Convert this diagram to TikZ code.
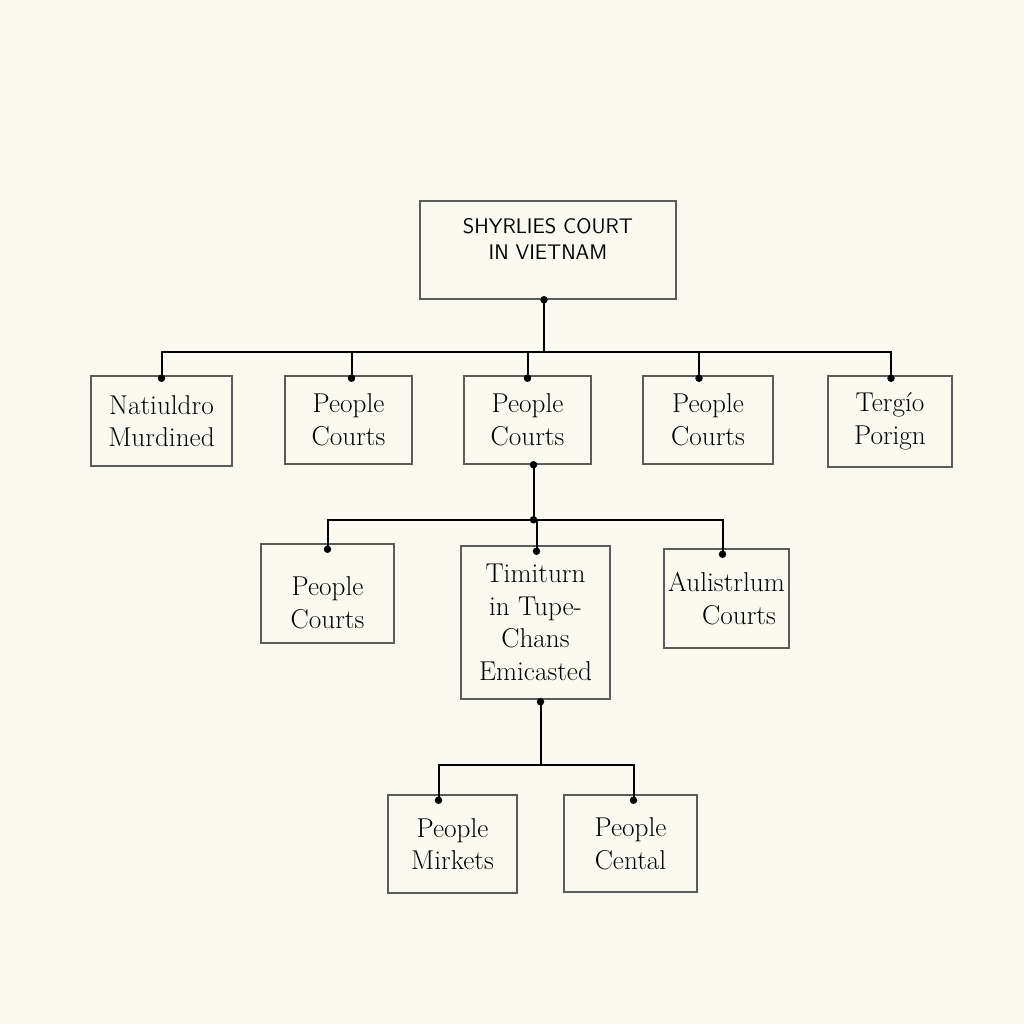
\documentclass[tikz,border=0pt]{standalone}
\usepackage{tikz}
\usetikzlibrary{calc}

\definecolor{paper}{HTML}{FBFAF0}
\definecolor{frame}{HTML}{5C5C5C}

\tikzset{
  unit/.style={draw=frame, line width=0.3mm, fill=paper, align=center,
    font=\fontsize{15.5}{18.5}\selectfont, inner sep=0pt},
  link/.style={line width=0.4mm, black},
  joint/.style={circle, fill=black, inner sep=0pt, minimum size=1.5mm}
}

\begin{document}
\begin{tikzpicture}[x=0.2mm,y=-0.2mm]
\fill[paper] (0,0) rectangle (1024,1024);
\useasboundingbox (0,0) rectangle (1024,1024);

% head
\node[unit, minimum width=51.2mm, minimum height=19.6mm,
  label={[align=center, yshift=2.3mm, font=\sffamily\fontsize{12}{14.8}\selectfont]center:SHYRLIES COURT\\IN VIETNAM}]
  (court) at (548,250) {};

% first level
\node[unit, minimum width=28.2mm, minimum height=18mm] (natl) at (161.5,421) {Natiuldro\\Murdined};
\node[unit, minimum width=25.4mm, minimum height=17.6mm] (ppla) at (348.5,420) {People\\Courts};
\node[unit, minimum width=25.4mm, minimum height=17.6mm] (pplb) at (527.5,420) {People\\Courts};
\node[unit, minimum width=26mm, minimum height=17.6mm] (pplc) at (708,420) {People\\Courts};
\node[unit, minimum width=24.8mm, minimum height=18.2mm] (terg) at (890,421.5) {Tergío\\Porign};

% second level
\node[unit, minimum width=26.6mm, minimum height=19.8mm] (ppld) at (327.5,593.5) {\\[1mm]People\\Courts};
\node[unit, minimum width=29.8mm, minimum height=30.6mm] (timi) at (535.5,622.5) {Timiturn\\in Tupe-\\Chans\\Emicasted};
\node[unit, minimum width=25mm, minimum height=19.8mm] (aust) at (726.5,598.5) {Aulistrlum\\\hspace*{5mm}Courts};

% third level
\node[unit, minimum width=25.8mm, minimum height=19.6mm] (pplm) at (452.5,844) {People\\Mirkets};
\node[unit, minimum width=26.6mm, minimum height=19.4mm] (pplx) at (630.5,843.5) {People\\Cental};

% connectors
\coordinate (top) at ($(court.south)+(-4,0)$);
\draw[link] (top) -- ++(0,52) coordinate (hub1);
\foreach \n/\dx in {natl/0, ppla/3, pplb/0, pplc/-9, terg/1}{
  \coordinate (in-\n) at ($(\n.north)+(\dx,3)$);
  \draw[link] (in-\n) |- (hub1);
  \node[joint] at (in-\n) {};
}
\node[joint] at (top) {};

\coordinate (out2) at ($(pplb.south)+(6,0)$);
\draw[link] (out2) -- ++(0,55) coordinate (hub2);
\foreach \n/\dx in {ppld/0, timi/1, aust/-4}{
  \coordinate (in-\n) at ($(\n.north)+(\dx,6)$);
  \draw[link] (in-\n) |- (hub2);
  \node[joint] at (in-\n) {};
}
\node[joint] at (out2) {};
\node[joint] at (hub2) {};

\coordinate (out3) at ($(timi.south)+(5,2)$);
\draw[link] (out3) -- ++(0,63) coordinate (hub3);
\foreach \n/\dx in {pplm/-14, pplx/3}{
  \coordinate (in-\n) at ($(\n.north)+(\dx,6)$);
  \draw[link] (in-\n) |- (hub3);
  \node[joint] at (in-\n) {};
}
\node[joint] at (out3) {};
\end{tikzpicture}
\end{document}
